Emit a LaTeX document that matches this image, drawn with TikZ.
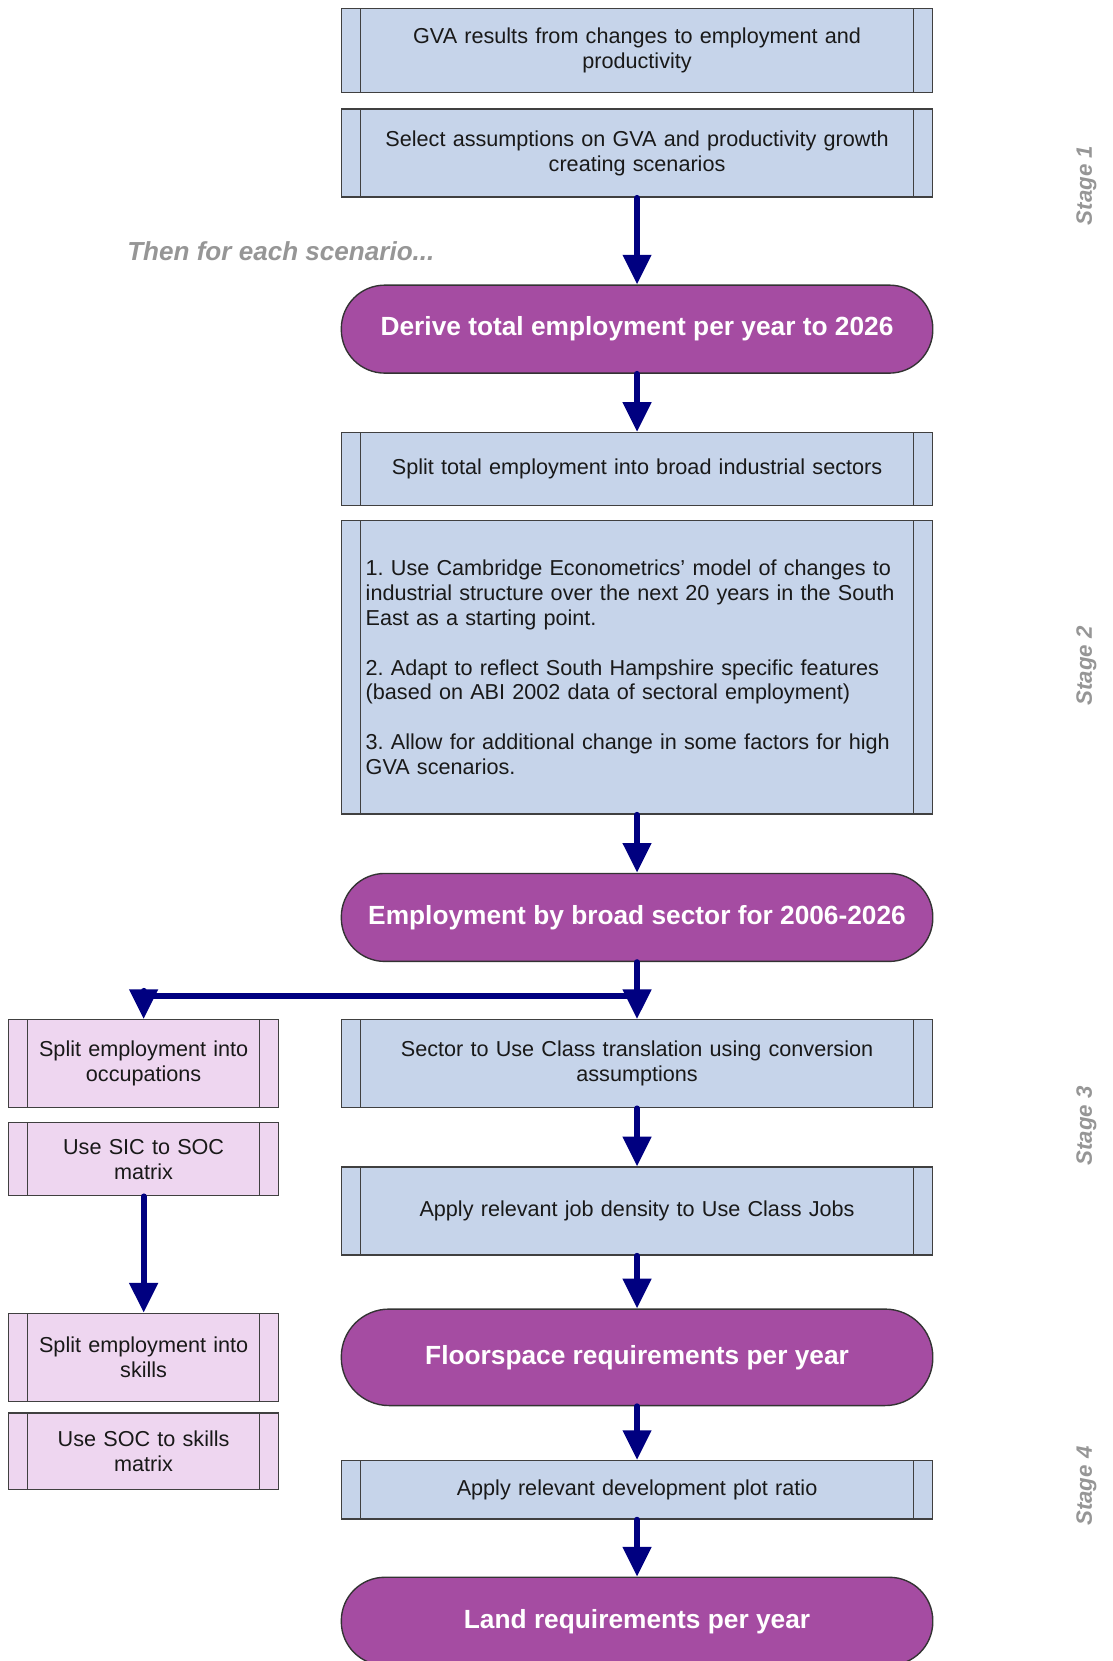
\documentclass[tikz,border=0pt]{standalone}
\usepackage{fontspec}
\setmainfont{Liberation Sans}
\usetikzlibrary{arrows.meta}
\frenchspacing

\definecolor{cajaazul}{RGB}{198,212,234}
\definecolor{cajarosa}{RGB}{238,214,240}
\definecolor{morado}{RGB}{165,76,162}
\definecolor{flecha}{RGB}{0,0,128}
\definecolor{gristexto}{RGB}{150,150,150}

\begin{document}
\begin{tikzpicture}[x=1pt, y=-1pt,
    proceso/.style={draw=black!75, line width=1.3pt, fill=cajaazul,
        minimum width=558pt, text width=510pt, align=center, text=black!90,
        font=\fontsize{20.4}{23.5}\selectfont,
        path picture={\draw[black!75, line width=1.3pt]
            ([xshift=18pt]path picture bounding box.north west) -- ([xshift=18pt]path picture bounding box.south west)
            ([xshift=-18pt]path picture bounding box.north east) -- ([xshift=-18pt]path picture bounding box.south east);}},
    lateral/.style={proceso, fill=cajarosa, minimum width=255pt, text width=220pt},
    terminal/.style={draw=black!80, line width=1.3pt, fill=morado, minimum width=558pt,
        minimum height=83pt, rounded corners=41pt, text=white,
        font=\fontsize{24.8}{29}\selectfont\bfseries},
    flujo/.style={draw=flecha, line width=5.5pt, line cap=round, -{Triangle[width=26pt,length=28pt]}},
    etapa/.style={rotate=90, text=gristexto, font=\fontsize{21}{25}\selectfont\bfseries\itshape}
]
    % Marco de la figura
    \useasboundingbox (0,0) rectangle (1050,1567);
    \clip (0,0) rectangle (1050,1567);

    % Etapa 1
    \node[proceso, minimum height=79pt] (gva) at (601,47.5)
        {GVA results from changes to employment and\\ productivity};
    \node[proceso, minimum height=83pt] (supuestos) at (601,144.5)
        {Select assumptions on GVA and productivity growth\\ creating scenarios};
    \node[text=gristexto, font=\fontsize{24.6}{28}\selectfont\bfseries\itshape] (cada) at (265,237)
        {Then for each scenario...};
    \node[terminal] (total) at (601,310.5) {Derive total employment per year to 2026};

    % Etapa 2
    \node[proceso, minimum height=69pt] (sectores) at (601,442.5)
        {Split total employment into broad industrial sectors};
    \node[proceso, minimum height=277pt, text width=512pt, align=left] (modelo) at (601,629.5)
        {1. Use Cambridge Econometrics' model of changes to\\
         industrial structure over the next 20 years in the South\\
         East as a starting point.\\[23.5pt]
         2. Adapt to reflect South Hampshire specific features\\
         (based on ABI 2002 data of sectoral employment)\\[23.5pt]
         3. Allow for additional change in some factors for high\\
         GVA scenarios.};
    \node[terminal] (porsector) at (601,865.5) {Employment by broad sector for 2006-2026};

    % Etapa 3: columna izquierda
    \node[lateral, minimum height=83pt] (ocupa) at (135.5,1003.5) {Split employment into\\ occupations};
    \node[lateral, minimum height=69pt] (sicsoc) at (135.5,1093.5) {Use SIC to SOC\\ matrix};
    \node[lateral, minimum height=83pt] (habil) at (135.5,1280.5) {Split employment into\\ skills};
    \node[lateral, minimum height=72pt] (sochab) at (135.5,1369) {Use SOC to skills\\ matrix};

    % Etapa 3: columna principal
    \node[proceso, minimum height=83pt] (usoclase) at (601,1003.5)
        {Sector to Use Class translation using conversion\\ assumptions};
    \node[proceso, minimum height=83pt] (densidad) at (601,1142.5)
        {Apply relevant job density to Use Class Jobs};
    \node[terminal, minimum height=91pt, rounded corners=45pt] (piso) at (601,1280.5)
        {Floorspace requirements per year};

    % Etapa 4
    \node[proceso, minimum height=55pt] (ratio) at (601,1405.5)
        {Apply relevant development plot ratio};
    \node[terminal] (suelo) at (601,1529.5) {Land requirements per year};

    % Etiquetas de las etapas
    \node[etapa] (etapa1) at (1025,175) {Stage 1};
    \node[etapa] (etapa2) at (1025,628) {Stage 2};
    \node[etapa] (etapa3) at (1025,1062) {Stage 3};
    \node[etapa] (etapa4) at (1025,1402) {Stage 4};

    % Flechas
    \draw[flujo] (supuestos.south) -- (total.north);
    \draw[flujo] (total.south) -- (sectores.north);
    \draw[flujo] (modelo.south) -- (porsector.north);
    \draw[flujo] (porsector.south) -- (usoclase.north);
    \coordinate (rama) at (601,940);
    \draw[flujo] (rama) -| (ocupa.north);
    \draw[flujo] (sicsoc.south) -- (habil.north);
    \draw[flujo] (usoclase.south) -- (densidad.north);
    \draw[flujo] (densidad.south) -- (piso.north);
    \draw[flujo] (piso.south) -- (ratio.north);
    \draw[flujo] (ratio.south) -- (suelo.north);
\end{tikzpicture}
\end{document}
